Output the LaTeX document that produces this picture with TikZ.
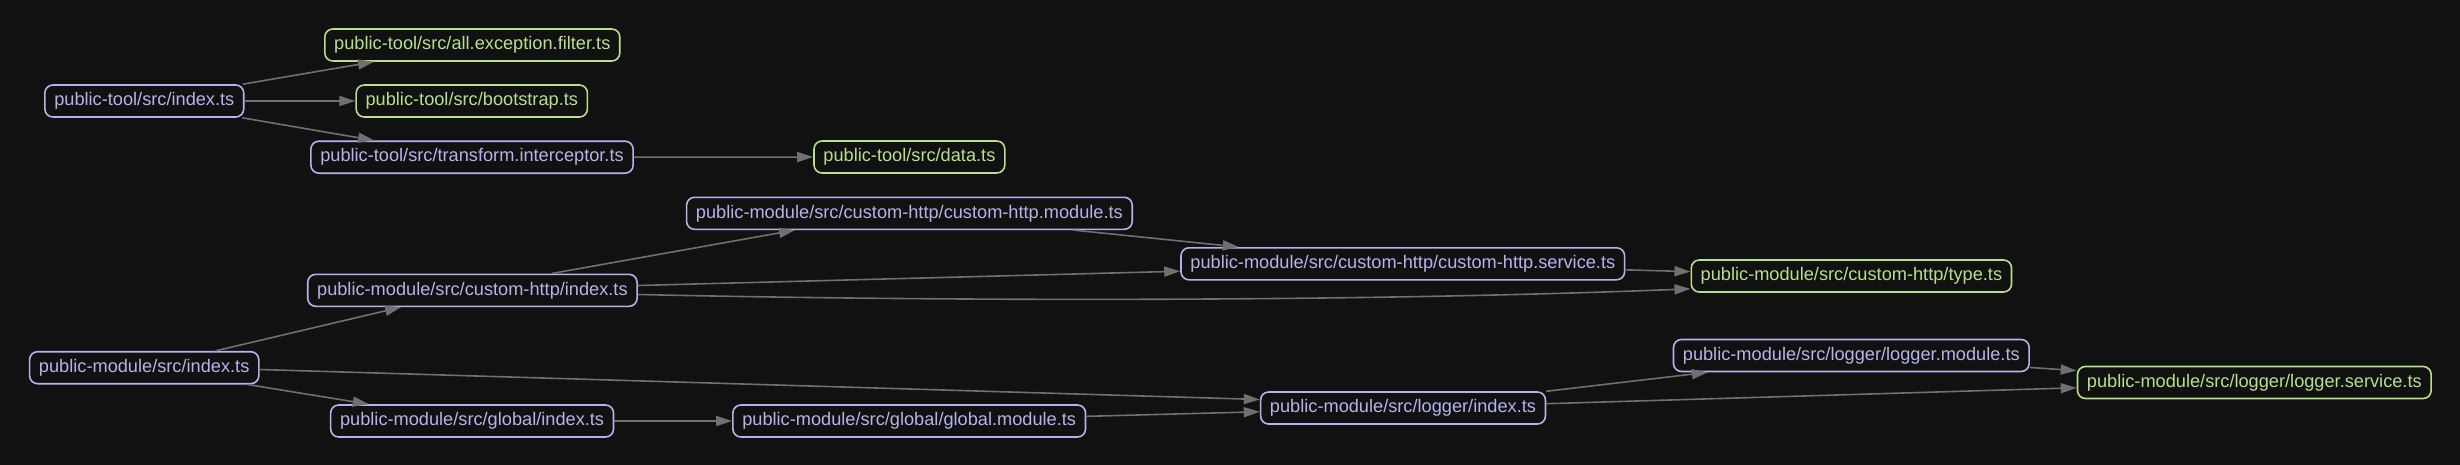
\documentclass[tikz,border=0pt]{standalone}
\usepackage{fontspec}
\setmainfont{Liberation Sans}
\usetikzlibrary{arrows.meta}
\definecolor{bg}{HTML}{111111}
\definecolor{lav}{HTML}{B4B4EC}
\definecolor{lime}{HTML}{B8E08C}
\definecolor{edgec}{HTML}{707070}
\begin{document}
\begin{tikzpicture}[x=0.5pt,y=-0.5pt,
  file/.style={draw=lav,text=lav,fill=bg,rounded corners=4pt,line width=0.8pt,
    inner xsep=4.7pt,inner ysep=0pt,minimum height=16pt,
    font=\fontsize{9.1}{11}\selectfont},
  leaf/.style={file,draw=lime,text=lime},
  dep/.style={draw=edgec,line width=0.8pt,-{Triangle[length=8pt,width=5pt]}}]
\fill[bg] (0,0) rectangle (2460,465);
\useasboundingbox (0,0) rectangle (2460,465);

% public-tool
\node[file] (tindex) at (144.3,101) {public-tool/src/index.ts};
\node[leaf] (tfilter) at (472.3,45) {public-tool/src/all.exception.filter.ts};
\node[leaf] (tboot) at (471.8,101) {public-tool/src/bootstrap.ts};
\node[file] (ttrans) at (472,157.2) {public-tool/src/transform.interceptor.ts};
\node[leaf] (tdata) at (909.4,157) {public-tool/src/data.ts};

% public-module
\node[file] (mchmod) at (909.4,213.3) {public-module/src/custom-http/custom-http.module.ts};
\node[file] (mchsvc) at (1402.8,263.8) {public-module/src/custom-http/custom-http.service.ts};
\node[leaf] (mtype) at (1851.4,276) {public-module/src/custom-http/type.ts};
\node[file] (mchidx) at (472.4,290.3) {public-module/src/custom-http/index.ts};
\node[file] (mindex) at (144.2,367.7) {public-module/src/index.ts};
\node[file] (mgidx) at (472.1,421) {public-module/src/global/index.ts};
\node[file] (mgmod) at (909.2,421) {public-module/src/global/global.module.ts};
\node[file] (mlidx) at (1403,408) {public-module/src/logger/index.ts};
\node[file] (mlmod) at (1851.3,355.5) {public-module/src/logger/logger.module.ts};
\node[leaf] (mlsvc) at (2254.3,382.5) {public-module/src/logger/logger.service.ts};

% edges
\draw[dep] (tindex) -- (tfilter);
\draw[dep] (tindex) -- (tboot);
\draw[dep] (tindex) -- (ttrans);
\draw[dep] (ttrans) -- (tdata);

\draw[dep] (mindex) -- (mchidx);
\draw[dep] (mindex) -- (mgidx);
\draw[dep] ([yshift=-0.9pt]mindex.east) -- ([yshift=4.25pt]mlidx.west);
\draw[dep] ([xshift=39.65pt]mchidx.north) -- ([xshift=-57.2pt]mchmod.south);
\draw[dep] ([yshift=2.4pt]mchidx.east) -- ([yshift=-3.7pt]mchsvc.west);
\draw[dep] ([yshift=-2.1pt]mchidx.east) .. controls +(362.5,8) and +(-290.7,11.7) .. ([yshift=-6.4pt]mtype.west);
\draw[dep] (mchmod) -- (mchsvc);
\draw[dep] (mchsvc) -- (mtype);
\draw[dep] (mgidx) -- (mgmod);
\draw[dep] (mgmod) -- (mlidx);
\draw[dep] (mlidx) -- (mlmod);
\draw[dep] (mlidx) -- (mlsvc);
\draw[dep] (mlmod) -- (mlsvc);
\end{tikzpicture}
\end{document}
